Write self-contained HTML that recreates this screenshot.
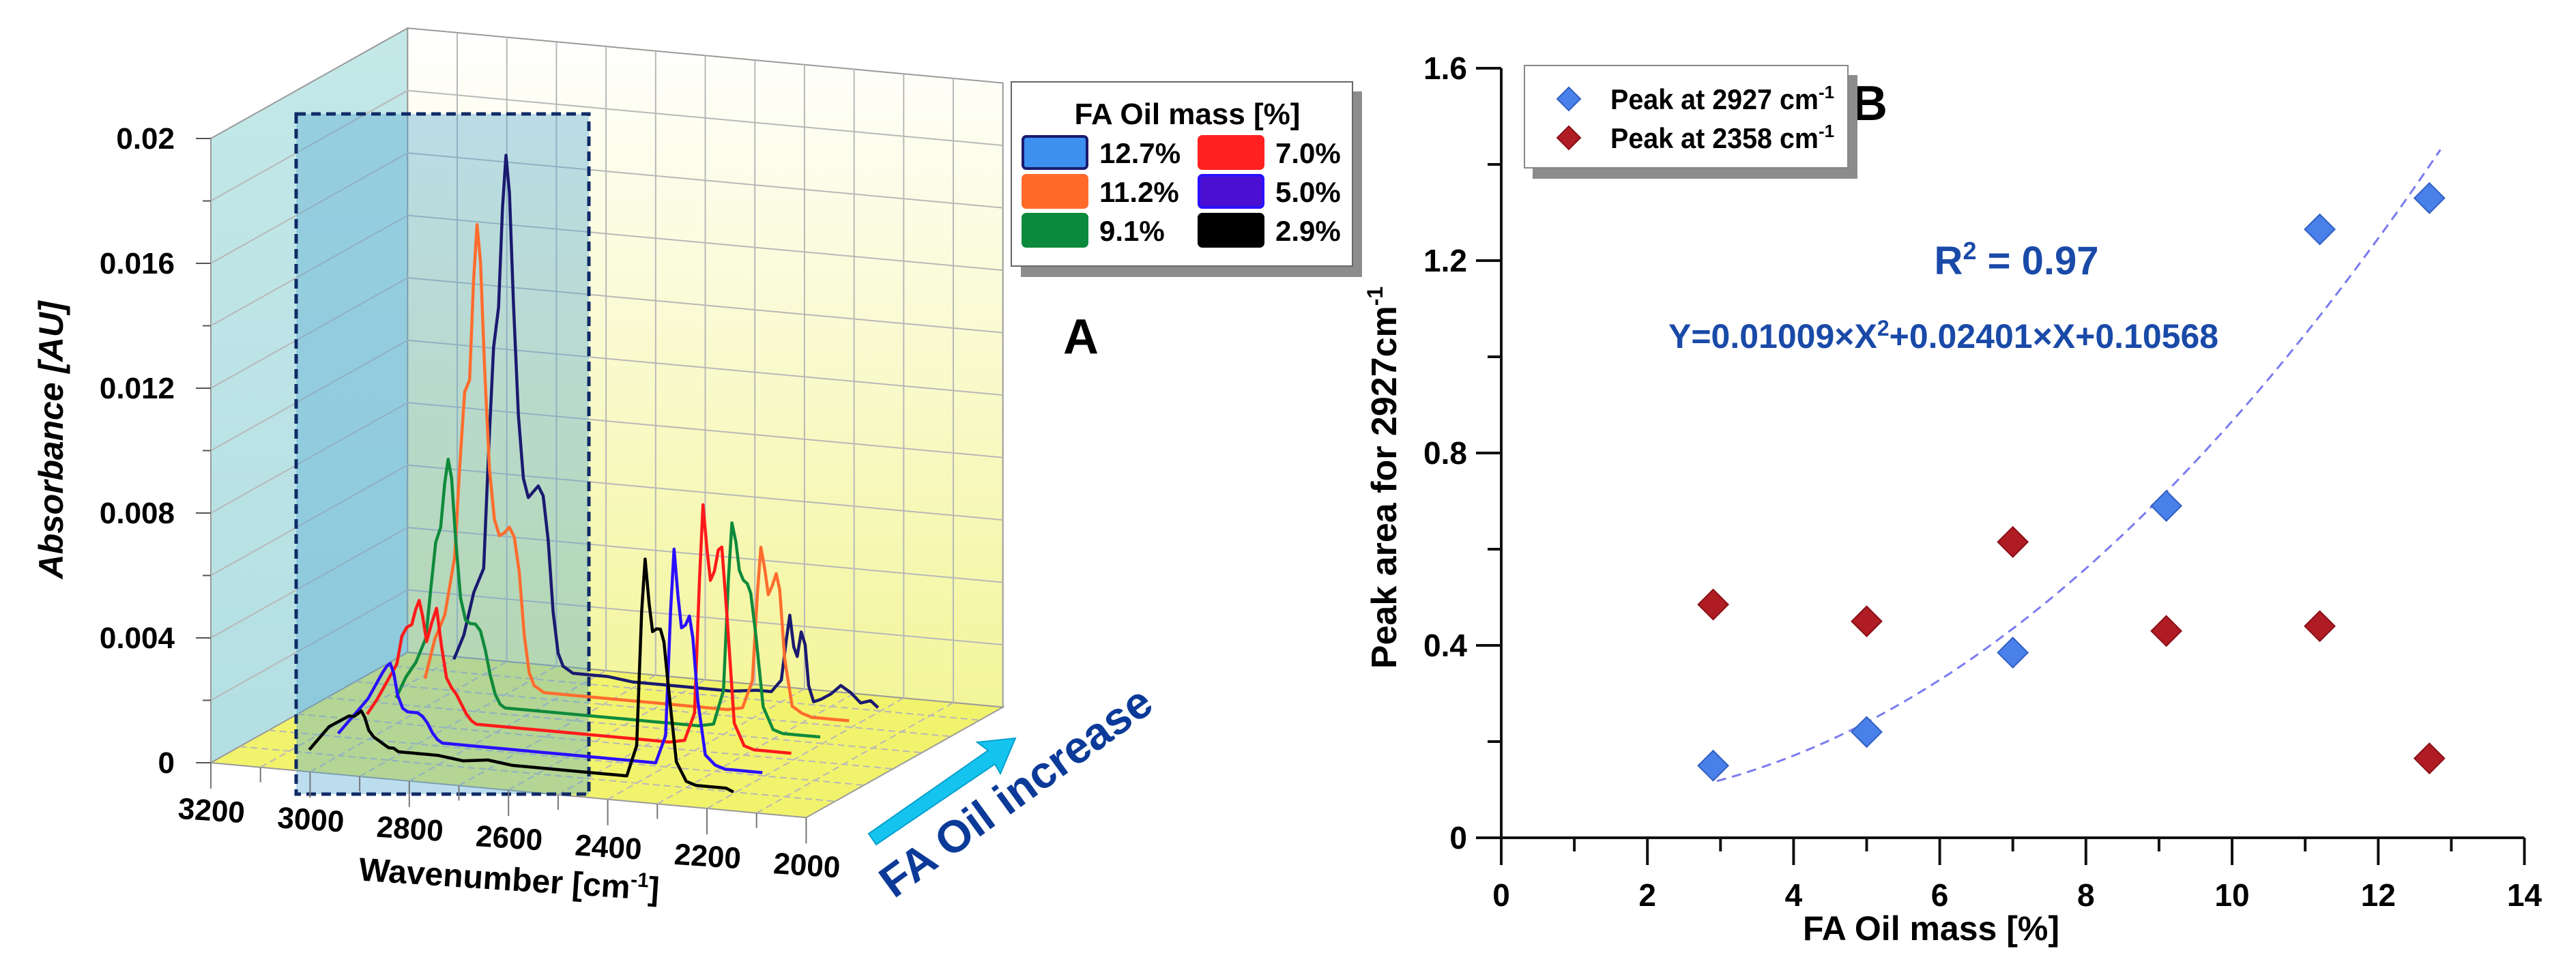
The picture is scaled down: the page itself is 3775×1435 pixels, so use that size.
<!DOCTYPE html>
<html><head><meta charset="utf-8">
<style>
html,body{margin:0;padding:0;background:#fff;}
svg{display:block;font-family:"Liberation Sans",Arial,sans-serif;}
</style></head>
<body>
<svg id="fig" width="3775" height="1435" viewBox="0 0 3775 1435" xmlns="http://www.w3.org/2000/svg">
<defs>
<linearGradient id="backGrad" x1="0" y1="0" x2="0" y2="1">
<stop offset="0" stop-color="#ffffff"/><stop offset="1" stop-color="#f3f59a"/>
</linearGradient>
<linearGradient id="leftGrad" x1="0" y1="0" x2="0" y2="1">
<stop offset="0" stop-color="#c4e8e8"/><stop offset="1" stop-color="#b3dfe3"/>
</linearGradient>
</defs>
<g id="panelA"></g>
<g id="panelB"></g>
</svg>
<script>
// ---------- Panel A data ----------
const wavenumbers = [3060,3040,3020,3000,2990,2980,2970,2962,2955,2948,2940,2930,2920,2910,2900,2890,2880,2870,2860,2850,2840,2820,2800,2750,2700,2650,2600,2550,2500,2450,2420,2400,2390,2383,2375,2368,2360,2352,2345,2335,2320,2300,2280,2260,2240,2220,2205];
const seriesLabels = ["2.9%","5.0%","7.0%","9.1%","11.2%","12.7%"];
const seriesColors = ["#000000","#2a10ff","#ff1a1a","#0f8a3c","#ff6d2e","#1a1a70"];
const abs29 = [0.0001,0.0005,0.0009,0.0011,0.0012,0.0013,0.0013,0.0014,0.0015,0.0013,0.0009,0.0007,0.0006,0.0005,0.0004,0.0004,0.0003,0.0003,0.0003,0.0003,0.0003,0.0003,0.0003,0.0002,0.0003,0.0002,0.0002,0.0002,0.0002,0.0002,0.0002,0.0012,0.0055,0.0072,0.0058,0.0049,0.0050,0.0050,0.0046,0.0030,0.0008,0.0002,0.0001,0.0001,0.0001,0.0001,0.0000];
const abs50 = [0.0001,0.0005,0.0009,0.0013,0.0016,0.0019,0.0022,0.0024,0.0025,0.0022,0.0015,0.0011,0.0010,0.0010,0.0010,0.0009,0.0007,0.0004,0.0002,0.0001,0.0001,0.0001,0.0001,0.0001,0.0001,0.0001,0.0001,0.0001,0.0001,0.0001,0.0001,0.0010,0.0050,0.0070,0.0055,0.0045,0.0046,0.0049,0.0042,0.0022,0.0005,0.0002,0.0001,0.0001,0.0001,0.0001,0.0001];
const abs70 = [0.0002,0.0007,0.0013,0.0019,0.0028,0.0031,0.0032,0.0037,0.0040,0.0035,0.0027,0.0033,0.0038,0.0026,0.0016,0.0013,0.0011,0.0008,0.0005,0.0003,0.0002,0.0002,0.0002,0.0002,0.0002,0.0002,0.0002,0.0002,0.0002,0.0002,0.0003,0.0012,0.0055,0.0079,0.0065,0.0055,0.0058,0.0065,0.0066,0.0045,0.0010,0.0003,0.0002,0.0002,0.0002,0.0002,0.0002];
const abs91 = [0.0002,0.0009,0.0014,0.0022,0.0038,0.0053,0.0058,0.0072,0.0080,0.0074,0.0055,0.0036,0.0029,0.0028,0.0028,0.0026,0.0020,0.0012,0.0006,0.0003,0.0002,0.0002,0.0002,0.0002,0.0002,0.0002,0.0002,0.0002,0.0002,0.0002,0.0003,0.0014,0.0050,0.0068,0.0062,0.0053,0.0050,0.0049,0.0046,0.0033,0.0010,0.0003,0.0002,0.0002,0.0002,0.0002,0.0002];
const abs112 = [0.0003,0.0016,0.0024,0.0043,0.0072,0.0096,0.0100,0.0132,0.0150,0.0138,0.0105,0.0072,0.0056,0.0051,0.0052,0.0054,0.0051,0.0040,0.0020,0.0008,0.0004,0.0002,0.0002,0.0002,0.0002,0.0002,0.0002,0.0002,0.0002,0.0002,0.0003,0.0012,0.0040,0.0055,0.0048,0.0040,0.0043,0.0047,0.0042,0.0020,0.0005,0.0003,0.0002,0.0002,0.0002,0.0002,0.0002];
const abs127 = [0.0004,0.0012,0.0026,0.0034,0.0072,0.0105,0.0118,0.0150,0.0167,0.0155,0.0120,0.0084,0.0064,0.0058,0.0060,0.0062,0.0059,0.0045,0.0022,0.0009,0.0005,0.0003,0.0003,0.0003,0.0002,0.0002,0.0002,0.0002,0.0002,0.0003,0.0003,0.0007,0.0020,0.0028,0.0018,0.0015,0.0023,0.0019,0.0006,0.0001,0.0002,0.0004,0.0007,0.0005,0.0002,0.0003,0.0001];
const absTicks = [0,0.004,0.008,0.012,0.016,0.02];
const absTickLabels = ["0","0.004","0.008","0.012","0.016","0.02"];
const wnTicks = [3200,3000,2800,2600,2400,2200,2000];

// ---------- Panel B data ----------
const massValues = [2.9,5.0,7.0,9.1,11.2,12.7];
const peak2927 = [0.15,0.22,0.385,0.69,1.265,1.33];
const peak2358 = [0.485,0.45,0.615,0.43,0.44,0.165];
const fitCoef = [0.079,-0.0142,0.00929];
const xTicksB = [0,2,4,6,8,10,12,14];
const yTicksB = [0,0.4,0.8,1.2,1.6];
const yTickLabelsB = ["0","0.4","0.8","1.2","1.6"];

const NS = "http://www.w3.org/2000/svg";
function mk(parent, tag, attrs, text){
  const e = document.createElementNS(NS, tag);
  for (const k in attrs) e.setAttribute(k, attrs[k]);
  if (text !== undefined) e.textContent = text;
  parent.appendChild(e);
  return e;
}
// ---------- Panel A ----------
const A = document.getElementById("panelA");
const K = 6.8;
function P(cm, k, a){
  return [309 + (3200-cm)*0.727 + k*42.4, 1118 + (3200-cm)*0.067 - k*23.8 - a*45750];
}
function poly(pts){ return pts.map(p=>p[0].toFixed(1)+","+p[1].toFixed(1)).join(" "); }

let el;
el = mk(A,"polygon",{points:poly([P(3200,0,0),P(3200,0,0.02),P(3200,K,0.02),P(3200,K,0)]),fill:"url(#leftGrad)",stroke:"#9a9a9a","stroke-width":2});


el = mk(A,"polygon",{points:poly([P(3200,K,0),P(3200,K,0.02),P(2000,K,0.02),P(2000,K,0)]),fill:"url(#backGrad)",stroke:"#9a9a9a","stroke-width":2});


el = mk(A,"polygon",{points:poly([P(3200,0,0),P(3200,K,0),P(2000,K,0),P(2000,0,0)]),fill:"#f2f36c",stroke:"#9a9a9a","stroke-width":2});



const grid = mk(A,"g",{stroke:"#b8b8b8","stroke-width":2,fill:"none"});


for (let cm=3100; cm>2000; cm-=100){
  const a=P(cm,K,0), b=P(cm,K,0.02);
  mk(grid,"line",{x1:a[0],y1:a[1],x2:b[0],y2:b[1]});
  const c=P(cm,0,0);
  mk(grid,"line",{x1:c[0],y1:c[1],x2:a[0],y2:a[1],"stroke-dasharray":"10 6"});
}
for (let v=0.002; v<0.0199; v+=0.002){
  const a=P(3200,0,v), b=P(3200,K,v), c=P(2000,K,v);
  mk(grid,"polyline",{points:poly([a,b,c])});
}
for (let k=1;k<=6;k++){
  const a=P(3200,k,0), b=P(2000,k,0);
  mk(grid,"line",{x1:a[0],y1:a[1],x2:b[0],y2:b[1],"stroke-dasharray":"10 6"});
}

el = mk(A,"rect",{x:434,y:167,width:429,height:997,fill:"rgba(80,165,210,0.38)",stroke:"#102a66","stroke-width":5,"stroke-dasharray":"14 8"});



const allAbs = [abs29,abs50,abs70,abs91,abs112,abs127];
for (let s=5; s>=0; s--){
  const depth = s+1;
  const pts = wavenumbers.map((w,i)=>P(w,depth,allAbs[s][i]));
  const line = mk(A,"polyline",{points:poly(pts),fill:"none",stroke:seriesColors[s],"stroke-width":4.5,"stroke-linejoin":"round"});
  
  
}

const yAx = mk(A,"g",{});


for (let v=0; v<=0.0201; v+=0.002){
  const p=P(3200,0,v);
  const major = Math.abs((v/0.004)-Math.round(v/0.004))<1e-6;
  mk(yAx,"line",{x1:p[0]-(major?22:12),y1:p[1],x2:p[0],y2:p[1],stroke:"#555","stroke-width":2});
}
absTicks.forEach((v,i)=>{
  const p=P(3200,0,v);
  const t = mk(yAx,"text",{x:256,y:p[1]+15,"text-anchor":"end","font-size":44,"font-weight":"bold"},absTickLabels[i]);
  
  
});
el = mk(A,"text",{x:0,y:0,transform:"translate(92,645) rotate(-90)","text-anchor":"middle","font-size":50,"font-weight":"bold","font-style":"italic",textLength:407},"Absorbance [AU]");



const xAx = mk(A,"g",{});


for (let cm=3200; cm>=2000; cm-=100){
  const p=P(cm,0,0);
  mk(xAx,"line",{x1:p[0],y1:p[1],x2:p[0],y2:p[1]+(cm%200===0?38:22),stroke:"#777","stroke-width":2});
}
wnTicks.forEach(cm=>{
  const p=P(cm,0,0);
  const t = mk(xAx,"text",{x:0,y:0,transform:`translate(${p[0]},${p[1]+85}) rotate(3.8)`,"text-anchor":"middle","font-size":44,"font-weight":"bold"},String(cm));
  
  
});
el = mk(A,"text",{x:0,y:0,transform:"translate(745,1305) rotate(3.8)","text-anchor":"middle","font-size":48,"font-weight":"bold"});


el.appendChild(document.createTextNode("Wavenumber [cm"));
mk(el,"tspan",{"font-size":30,dy:-18},"-1");
mk(el,"tspan",{dy:18},"]");

el = mk(A,"polygon",{points:"1273,1222 1448,1100 1432,1088 1488,1082 1466,1134 1458,1120 1284,1238",fill:"#14c4ee",stroke:"#0aa0cc","stroke-width":2});


el = mk(A,"text",{x:0,y:0,transform:"translate(1310,1318) rotate(-36)","font-size":66,"font-weight":"bold",fill:"#0b3a98"},"FA Oil increase");



el = mk(A,"text",{x:1584,y:518,"text-anchor":"middle","font-size":72,"font-weight":"bold"},"A");



const legA = mk(A,"g",{});


mk(legA,"rect",{x:1496,y:134,width:500,height:272,fill:"#8c8c8c"});
mk(legA,"rect",{x:1482,y:120,width:500,height:270,fill:"#fff",stroke:"#666","stroke-width":2});
el = mk(legA,"text",{x:1740,y:182,"text-anchor":"middle","font-size":44,"font-weight":"bold"},"FA Oil mass [%]");


const legOrder = [[5,0,0],[4,0,1],[3,0,2],[2,1,0],[1,1,1],[0,1,2]];
const swFill = {5:"#3d8ff0",4:"#ff6a2a",3:"#0a8a3a",2:"#ff2020",1:"#4a0fd0",0:"#000000"};
const swStroke = {5:"#1a1a70",4:"#ff6a2a",3:"#0a8a3a",2:"#ff2020",1:"#2a10ff",0:"#000000"};
legOrder.forEach(([s,col,row])=>{
  const x = col===0?1499:1757, y = 200+row*57;
  const g = mk(legA,"g",{});
  
  
  mk(g,"rect",{x:x,y:y,width:94,height:47,rx:5,fill:swFill[s],stroke:swStroke[s],"stroke-width":4});
  mk(g,"text",{x:x+112,y:y+39,"font-size":42,"font-weight":"bold"},seriesLabels[s]);
});

// ---------- Panel B ----------
const B = document.getElementById("panelB");
const bx0=2200, bxUnit=107.1, by0=1228, byUnit=705;
function X(v){return bx0+v*bxUnit;}
function Y(v){return by0-v*byUnit;}
const axB = mk(B,"g",{stroke:"#111","stroke-width":4});


mk(axB,"line",{x1:X(0),y1:Y(1.6),x2:X(0),y2:by0+40});
mk(axB,"line",{x1:2163,y1:by0,x2:X(14),y2:by0});
for (let v=0; v<=1.6001; v+=0.2){
  const major = Math.abs(v/0.4-Math.round(v/0.4))<1e-6;
  mk(axB,"line",{x1:X(0)-(major?37:20),y1:Y(v),x2:X(0),y2:Y(v)});
}
for (let v=1; v<=14; v++){
  mk(axB,"line",{x1:X(v),y1:by0,x2:X(v),y2:by0+(v%2===0?40:20)});
}
yTicksB.forEach((v,i)=>{
  const t = mk(B,"text",{x:2150,y:Y(v)+16,"text-anchor":"end","font-size":46,"font-weight":"bold"},yTickLabelsB[i]);
  
  
});
xTicksB.forEach(v=>{
  const t = mk(B,"text",{x:X(v),y:by0+100,"text-anchor":"middle","font-size":46,"font-weight":"bold"},String(v));
  
  
});
el = mk(B,"text",{x:2830,y:1378,"text-anchor":"middle","font-size":50,"font-weight":"bold"},"FA Oil mass [%]");


el = mk(B,"text",{x:0,y:0,transform:"translate(2046,700) rotate(-90)","text-anchor":"middle","font-size":52,"font-weight":"bold"});


el.appendChild(document.createTextNode("Peak area for 2927cm"));
mk(el,"tspan",{"font-size":32,dy:-20},"-1");

const fitPts=[];
for (let x=2.95; x<=12.86; x+=0.1){
  fitPts.push([X(x), Y(fitCoef[0]+fitCoef[1]*x+fitCoef[2]*x*x)]);
}
el = mk(B,"polyline",{points:poly(fitPts),fill:"none",stroke:"#7b7bf0","stroke-width":3,"stroke-dasharray":"14 9"});



function diamond(cx,cy,r,fill,stroke){
  return mk(B,"polygon",{points:`${cx},${cy-r} ${cx+r},${cy} ${cx},${cy+r} ${cx-r},${cy}`,fill:fill,stroke:stroke,"stroke-width":2});
}
massValues.forEach((m,i)=>{
  const d = diamond(X(m),Y(peak2927[i]),22,"#4a80ea","#3060c0");
  
  
  const r = diamond(X(m),Y(peak2358[i]),22,"#b01c24","#8a1018");
  
  
});

el = mk(B,"text",{x:2955,y:402,"text-anchor":"middle","font-size":58,"font-weight":"bold",fill:"#1a4aa8"});


el.appendChild(document.createTextNode("R"));
mk(el,"tspan",{"font-size":36,dy:-22},"2");
mk(el,"tspan",{dy:22}," = 0.97");
el = mk(B,"text",{x:2445,y:510,"font-size":50,"font-weight":"bold",fill:"#1a4aa8"});


el.appendChild(document.createTextNode("Y=0.01009×X"));
mk(el,"tspan",{"font-size":32,dy:-18},"2");
mk(el,"tspan",{dy:18},"+0.02401×X+0.10568");

el = mk(B,"text",{x:2740,y:176,"text-anchor":"middle","font-size":72,"font-weight":"bold"},"B");



const legB = mk(B,"g",{});


mk(legB,"rect",{x:2246,y:110,width:476,height:152,fill:"#8c8c8c"});
mk(legB,"rect",{x:2234,y:96,width:474,height:150,fill:"#fff",stroke:"#888","stroke-width":2});
[["Peak at 2927 cm","#4a80ea","#3060c0",145],["Peak at 2358 cm","#b01c24","#8a1018",202]].forEach(([lab,f,s,y])=>{
  const g = mk(legB,"g",{});
  
  
  mk(g,"polygon",{points:`2299,${y-17} 2316,${y} 2299,${y+17} 2282,${y}`,fill:f,stroke:s,"stroke-width":2});
  const t = mk(g,"text",{x:2360,y:y+15,"font-size":42,"font-weight":"bold"});
  const main = mk(t,"tspan",{textLength:305,lengthAdjust:"spacingAndGlyphs"},lab);
  mk(t,"tspan",{"font-size":26,dy:-16},"-1");
});
</script>
</body></html>
